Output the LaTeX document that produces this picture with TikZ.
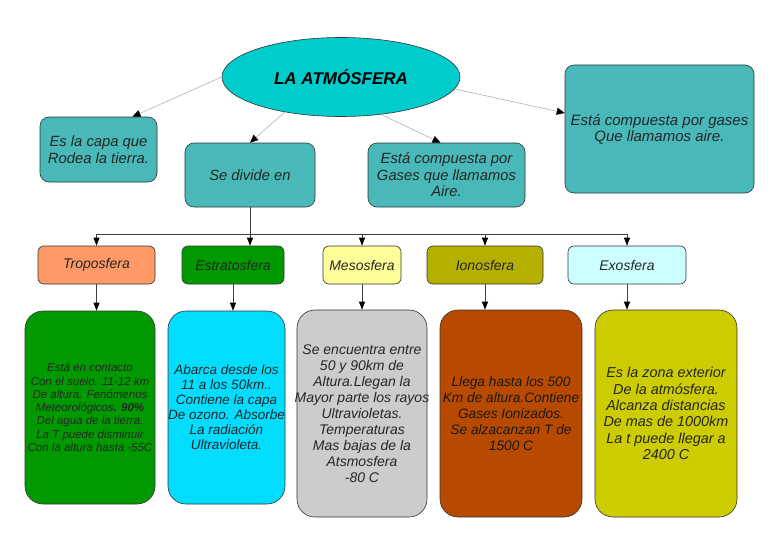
\documentclass[tikz,border=0pt]{standalone}
\usepackage{fontspec}
\setmainfont{Liberation Sans}
\usetikzlibrary{shapes.geometric,arrows.meta}
\definecolor{mapcyan}{RGB}{0,204,204}
\definecolor{mapteal}{RGB}{72,184,184}
\definecolor{troposalmon}{RGB}{255,153,102}
\definecolor{estratogreen}{RGB}{0,153,0}
\definecolor{mesoyellow}{RGB}{255,255,153}
\definecolor{ionoolive}{RGB}{181,176,0}
\definecolor{exocyan}{RGB}{204,255,255}
\definecolor{infocyan}{RGB}{0,221,255}
\definecolor{infogray}{RGB}{204,204,204}
\definecolor{inforust}{RGB}{184,74,0}
\definecolor{infoyellow}{RGB}{204,204,0}
\tikzset{
  every node/.style={font=\fontsize{14}{16}\selectfont\itshape, text=black!85, align=center, inner sep=0pt},
  topbox/.style={draw=black!80, fill=mapteal, rounded corners=9pt, line width=0.6pt, font=\fontsize{14.8}{16.5}\selectfont\itshape},
  levelbox/.style={draw=black!80, rounded corners=6pt, line width=0.6pt, minimum height=38pt},
  infobox/.style={draw=black!80, rounded corners=18pt, line width=0.6pt},
  link/.style={draw=black!35, line width=0.5pt, -{Triangle[length=8pt,width=7pt,color=black]}},
  flow/.style={draw=black!75, line width=0.8pt, -{Triangle[length=8pt,width=6pt,color=black]}}
}
\begin{document}
\begin{tikzpicture}[x=1pt,y=-1pt]
\path[fill=white] (0,0) rectangle (768,543);
\useasboundingbox (0,0) rectangle (768,543);
% centre and first row
\node[ellipse, draw=black!80, fill=mapcyan, line width=0.6pt, minimum width=238pt, minimum height=79pt,
  font=\fontsize{17}{20}\selectfont\bfseries\itshape, text=black] (atm) at (341,77) {LA ATMÓSFERA};
\node[topbox, minimum width=117pt, minimum height=65pt] (capa) at (98.5,149.5) {Es la capa que\\Rodea la tierra.};
\node[topbox, minimum width=130pt, minimum height=64pt] (divide) at (250,175) {Se divide en};
\node[topbox, minimum width=157pt, minimum height=64pt] (gases) at (446.5,175) {Está compuesta por\\Gases que llamamos\\Aire.};
\node[topbox, minimum width=189pt, minimum height=128pt, font=\fontsize{15}{16}\selectfont\itshape] (aire) at (659.5,129) {Está compuesta por gases\\Que llamamos aire.};
\draw[link] (atm.west) -- ([xshift=34pt]capa.north);
\draw[link] (atm.212) -- (divide.north);
\draw[link] (atm.317) -- ([xshift=-6pt]gases.north);
\draw[link] (atm.354) -- ([yshift=16pt]aire.west);
% layers
\node[levelbox, fill=troposalmon, minimum width=117pt] (tropo) at (96.5,265) {Troposfera};
\node[levelbox, fill=estratogreen, minimum width=102pt] (estrato) at (233,265) {Estratosfera};
\node[levelbox, fill=mesoyellow, minimum width=78pt] (meso) at (362,265) {Mesosfera};
\node[levelbox, fill=ionoolive, minimum width=116pt] (iono) at (485,265) {Ionosfera};
\node[levelbox, fill=exocyan, minimum width=118pt] (exo) at (627,265) {Exosfera};
\coordinate (bus) at (250,234);
\draw[draw=black!75, line width=0.8pt] (divide.south) -- (bus);
\draw[flow] (bus) -| (tropo.north);
\draw[flow] (bus) -- (bus |- estrato.north);
\draw[flow] (bus) -| (meso.north);
\draw[flow] (bus) -| (iono.north);
\draw[flow] (bus) -| (exo.north);
% details
\node[infobox, fill=estratogreen, minimum width=130pt, minimum height=193pt, font=\fontsize{11.5}{13.3}\selectfont\itshape] (tropoinfo) at (90,407.5)
  {Está en contacto\\Con el suelo. 11-12 km\\De altura. Fenómenos\\Meteorológicos\textbf{. 90\%}\\Del agua de la tierra.\\La T puede disminuir\\Con la altura hasta -55C};
\node[infobox, fill=infocyan, minimum width=117pt, minimum height=193pt, font=\fontsize{13.5}{15}\selectfont\itshape] (estratoinfo) at (226.5,407.5)
  {Abarca desde los\\11 a los 50km..\\Contiene la capa\\De ozono. Absorbe\\La radiación\\Ultravioleta.};
\node[infobox, fill=infogray, minimum width=130pt, minimum height=207pt] (mesoinfo) at (362,413.5)
  {Se encuentra entre\\50 y 90km de\\Altura.Llegan la\\\makebox[0pt]{Mayor parte los rayos}\\Ultravioletas.\\Temperaturas\\Mas bajas de la\\Atsmosfera\\-80 C};
\node[infobox, fill=inforust, minimum width=142pt, minimum height=207pt, text=black!90, font=\fontsize{13.7}{16}\selectfont\itshape] (ionoinfo) at (511,413.5)
  {Llega hasta los 500\\Km de altura.Contiene\\Gases Ionizados.\\Se alzacanzan T de\\1500 C};
\node[infobox, fill=infoyellow, minimum width=142pt, minimum height=207pt, font=\fontsize{14.4}{16.4}\selectfont\itshape] (exoinfo) at (666,413.5)
  {Es la zona exterior\\De la atmósfera.\\Alcanza distancias\\De mas de 1000km\\La t puede llegar a\\2400 C};
\foreach \a/\b in {tropo/tropoinfo, estrato/estratoinfo, meso/mesoinfo, iono/ionoinfo, exo/exoinfo}
  \draw[flow] (\a.south) -- (\a.south |- \b.north);
\end{tikzpicture}
\end{document}
